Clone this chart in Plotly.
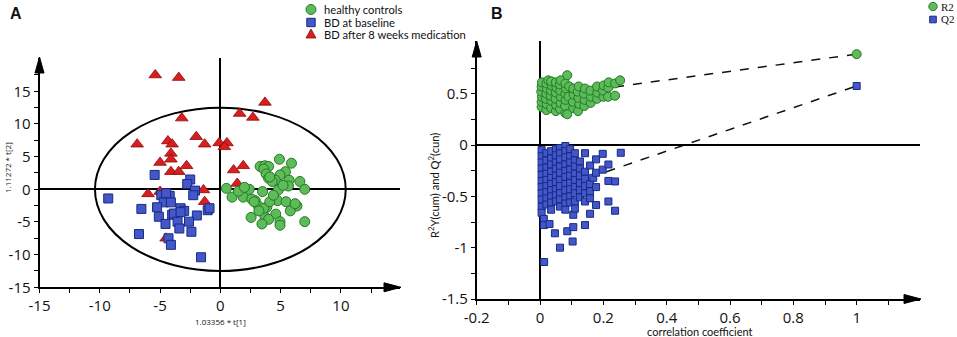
import plotly.graph_objects as go

W, H = 957, 337

# ---------------- Panel A data (PCA scores) ----------------
a_healthy_x = [4.9, 5.9, 3.3, 3.7, 4.0, 3.6, 5.4, 4.95, 3.8, 4.0, 4.55, 4.3, 5.7, 6.6, 5.65, 4.8, 7.0, 0.5,
               2.4, 3.5, 0.97, 1.9, 2.9, 2.6, 4.75, 5.45, 3.15, 3.85, 6.35, 5.8, 4.6, 2.55, 3.7, 4.0, 3.45,
               4.95, 4.95, 7.0, 2.8, 3.6, 4.1, 4.1, 5.2, 3.2, 4.4, 1.5, 2.0, 6.2]
a_healthy_y = [4.6, 4.0, 3.5, 3.6, 3.5, 3.1, 2.7, 2.2, 2.35, 1.7, 1.4, 1.2, 1.4, 1.2, 0.5, -0.1, 0.0, 0.15,
               0.0, -0.35, -1.2, -1.2, -1.75, -1.5, -1.75, -1.9, -2.55, -2.75, -2.55, -3.3, -3.8, -4.3, -4.2, -4.6, -5.3,
               -4.95, -5.5, -4.95, -1.9, -2.9, -1.9, 1.9, 0.6, -3.3, -0.9, -0.3, 0.3, -2.2]

a_base_x = [-9.3, -5.45, -2.5, -2.75, -2.1, -2.25, -4.9, -4.2, -4.7, -4.1, -5.25, -6.55, -3.3, -3.0, -1.05,
            -0.9, -5.1, -4.0, -3.85, -1.95, -4.55, -3.55, -3.4, -2.6, -2.4, -6.75, -4.3, -4.1, -1.6, -4.5, -3.3]
a_base_y = [-1.4, 2.2, 1.5, 0.8, -0.2, -0.9, -0.9, -1.0, -2.0, -2.0, -2.75, -3.0, -2.9, -3.3, -3.2,
            -2.9, -4.2, -3.9, -3.7, -4.0, -5.3, -4.95, -6.0, -4.95, -6.5, -6.85, -7.5, -8.5, -10.4, -0.6, -3.5]

a_med_x = [-5.4, -3.45, 3.7, 1.6, 2.7, -3.2, -2.0, -6.9, -4.35, -4.0, -1.3, -0.1, 0.55, 0.33, -4.1, -4.1,
           -5.0, -2.8, 1.9, 1.1, -4.1, -3.45, 1.4, -6.0, -5.0, -1.4, -1.3, -4.5]
a_med_y = [17.5, 17.1, 13.3, 11.6, 11.0, 10.9, 8.05, 6.9, 7.4, 6.9, 6.9, 7.1, 7.1, 6.5, 5.5, 4.6,
           4.1, 3.6, 3.6, 2.95, 2.7, 2.7, 0.9, -0.7, -0.35, -0.1, -1.9, -7.5]

a_ellipse_rx, a_ellipse_ry = 10.4, 12.5
a_xticks = [-15, -10, -5, 0, 5, 10]
a_yticks = [-15, -10, -5, 0, 5, 10, 15]

# ---------------- Panel B data (permutation test) ----------------
b_r2_x = [0.005, 0.005, 0.006, 0.004, 0.005, 0.006,
          0.02, 0.021, 0.019, 0.02, 0.022, 0.02, 0.026,
          0.035, 0.036, 0.034, 0.035, 0.037, 0.035,
          0.05, 0.051, 0.049, 0.05, 0.052, 0.05,
          0.063, 0.065, 0.066, 0.064, 0.063, 0.065,
          0.08, 0.079, 0.081, 0.08, 0.082, 0.08,
          0.086, 0.09, 0.092, 0.086,
          0.105, 0.104, 0.106, 0.105,
          0.12, 0.124, 0.121, 0.119, 0.122,
          0.14, 0.141, 0.139, 0.142,
          0.16, 0.161, 0.159,
          0.18, 0.181, 0.18,
          0.2, 0.199, 0.201,
          0.215, 0.216, 0.217,
          0.237, 0.237, 0.253]
b_r2_y = [0.37, 0.42, 0.47, 0.52, 0.57, 0.61,
          0.34, 0.40, 0.45, 0.50, 0.55, 0.60, 0.63,
          0.36, 0.43, 0.48, 0.53, 0.58, 0.62,
          0.33, 0.39, 0.45, 0.51, 0.56, 0.61,
          0.35, 0.41, 0.47, 0.53, 0.59, 0.63,
          0.31, 0.38, 0.44, 0.50, 0.55, 0.60,
          0.30, 0.47, 0.57, 0.68,
          0.36, 0.42, 0.49, 0.55,
          0.33, 0.40, 0.46, 0.52, 0.57,
          0.38, 0.44, 0.50, 0.55,
          0.41, 0.47, 0.53,
          0.45, 0.51, 0.57,
          0.47, 0.53, 0.58,
          0.47, 0.56, 0.61,
          0.48, 0.60, 0.63]

b_q2_x = [0.005] * 11 + [0.012, 0.012, 0.013] + [0.02] * 9 + [0.03] + [0.035] * 10 + [0.047] + [0.05] * 9 + \
         [0.063] * 11 + [0.08] * 11 + [0.086] + [0.095] * 9 + [0.105, 0.105, 0.103] + [0.11] * 9 + [0.126] * 6 + \
         [0.142] * 7 + [0.158] * 5 + [0.168] + [0.177] * 4 + [0.198, 0.198] + [0.216] * 3 + [0.237, 0.237, 0.255]
b_q2_y = [-0.05, -0.11, -0.17, -0.23, -0.29, -0.35, -0.41, -0.47, -0.53, -0.60, -0.66,
          -0.72, -0.78, -1.14,
          -0.08, -0.15, -0.22, -0.28, -0.34, -0.40, -0.46, -0.52, -0.58,
          -0.77,
          -0.06, -0.13, -0.19, -0.26, -0.32, -0.38, -0.44, -0.50, -0.56, -0.63,
          -0.86,
          -0.04, -0.10, -0.17, -0.23, -0.30, -0.36, -0.43, -0.49, -0.55,
          -0.03, -0.08, -0.14, -0.21, -0.27, -0.34, -0.40, -0.47, -0.53, -0.60, -1.0,
          -0.01, -0.06, -0.12, -0.19, -0.25, -0.31, -0.38, -0.44, -0.51, -0.57, -0.63,
          -0.84,
          -0.04, -0.11, -0.17, -0.24, -0.30, -0.37, -0.43, -0.50, -0.56,
          -0.80, -0.68, -0.94,
          -0.08, -0.15, -0.21, -0.28, -0.34, -0.41, -0.47, -0.55, -0.62,
          -0.16, -0.23, -0.30, -0.37, -0.44, -0.51,
          -0.08, -0.26, -0.33, -0.40, -0.47, -0.55, -0.78,
          -0.20, -0.45, -0.52, -0.38, -0.67,
          -0.32,
          -0.14, -0.27, -0.41, -0.585,
          -0.086, -0.24,
          -0.19, -0.35, -0.55,
          -0.355, -0.64, -0.076]

b_r2_line_x = [0.237, 1.0]
b_r2_line_y = [0.566, 0.885]
b_q2_line_x = [0.21, 1.0]
b_q2_line_y = [-0.26, 0.575]
b_xticks = [-0.2, 0, 0.2, 0.4, 0.6, 0.8, 1]
b_xticklabels = ["-0.2", "0", "0.2", "0.4", "0.6", "0.8", "1"]
b_yticks = [-1.5, -1, -0.5, 0, 0.5]
b_yticklabels = ["-1.5", "-1", "-0.5", "0", "0.5"]

# ---------------- colours ----------------
GREEN, GREEN_E = "#5dbb5a", "#237a23"
BLUE, BLUE_E = "#4357c8", "#182a86"
RED, RED_E = "#d81e1e", "#8c0a0a"

TICKFONT = dict(family="Open Sans, Lato, sans-serif", size=15, color="#111")

def px_x(p):
    return p / W

def px_y(p):
    return 1 - p / H

fig = go.Figure()

# Panel A traces (draw order: triangles, squares, circles)
fig.add_trace(go.Scatter(x=a_med_x, y=a_med_y, mode="markers", xaxis="x", yaxis="y", showlegend=False,
                         marker=dict(symbol="triangle-up", size=11, color=RED, line=dict(color=RED_E, width=0.8))))
fig.add_trace(go.Scatter(x=a_base_x, y=a_base_y, mode="markers", xaxis="x", yaxis="y", showlegend=False,
                         marker=dict(symbol="square", size=9, color=BLUE, line=dict(color=BLUE_E, width=1))))
fig.add_trace(go.Scatter(x=a_healthy_x, y=a_healthy_y, mode="markers", xaxis="x", yaxis="y", showlegend=False,
                         marker=dict(symbol="circle", size=10, color=GREEN, line=dict(color=GREEN_E, width=1))))

# Panel B traces
fig.add_trace(go.Scatter(x=b_r2_line_x, y=b_r2_line_y, mode="lines", xaxis="x2", yaxis="y2", showlegend=False,
                         line=dict(color="#111", width=1.5, dash="dash")))
fig.add_trace(go.Scatter(x=b_q2_line_x, y=b_q2_line_y, mode="lines", xaxis="x2", yaxis="y2", showlegend=False,
                         line=dict(color="#111", width=1.5, dash="dash")))
fig.add_trace(go.Scatter(x=b_r2_x + [b_r2_line_x[1]], y=b_r2_y + [b_r2_line_y[1]], mode="markers",
                         xaxis="x2", yaxis="y2", showlegend=False,
                         marker=dict(symbol="circle", size=9, color=GREEN, line=dict(color=GREEN_E, width=1))))
fig.add_trace(go.Scatter(x=b_q2_x + [b_q2_line_x[1]], y=b_q2_y + [b_q2_line_y[1]], mode="markers",
                         xaxis="x2", yaxis="y2", showlegend=False,
                         marker=dict(symbol="square", size=7, color=BLUE, line=dict(color=BLUE_E, width=1))))

axis_common = dict(showgrid=False, showline=True, linecolor="black", linewidth=1.8, ticks="outside",
                   ticklen=4, tickwidth=1.3, tickcolor="black", tickfont=TICKFONT, zeroline=True,
                   zerolinecolor="black", zerolinewidth=1.8, fixedrange=True, automargin=False)

# Panel A axes
fig.update_layout(
    xaxis=dict(domain=[px_x(39.5), px_x(400)], range=[-15, 14.9], anchor="y",
               tickmode="array", tickvals=a_xticks, ticktext=[str(v) for v in a_xticks],
               minor=dict(tickvals=[v + 2.5 for v in a_xticks], ticks="outside", ticklen=4,
                          tickwidth=1.3, tickcolor="black"),
               **axis_common),
    yaxis=dict(domain=[px_y(287.3), px_y(58)], range=[-15, 20.1], anchor="x",
               tickmode="array", tickvals=a_yticks, ticktext=[str(v) for v in a_yticks],
               minor=dict(tickvals=[v + 2.5 for v in a_yticks], ticks="outside", ticklen=4,
                          tickwidth=1.3, tickcolor="black"),
               **axis_common),
    xaxis2=dict(domain=[px_x(476.7), px_x(920)], range=[-0.2, 1.2], anchor="y2",
                tickmode="array", tickvals=b_xticks, ticktext=b_xticklabels,
                minor=dict(tickvals=[round(v + 0.1, 2) for v in b_xticks], ticks="outside", ticklen=4,
                           tickwidth=1.3, tickcolor="black"),
                **axis_common),
    yaxis2=dict(domain=[px_y(299), px_y(41)], range=[-1.5, 1.013], anchor="x2",
                tickmode="array", tickvals=b_yticks, ticktext=b_yticklabels,
                minor=dict(tickvals=[v + 0.25 for v in b_yticks] + [0.75], ticks="outside", ticklen=4,
                           tickwidth=1.3, tickcolor="black"),
                **axis_common),
)

shapes = []
# ellipse (Hotelling T2)
shapes.append(dict(type="circle", xref="x", yref="y", x0=-a_ellipse_rx, x1=a_ellipse_rx,
                   y0=-a_ellipse_ry, y1=a_ellipse_ry, line=dict(color="black", width=2), layer="below"))

def arrow_right(xp, yp):
    return dict(type="path", xref="paper", yref="paper", xsizemode="pixel", ysizemode="pixel",
                xanchor=px_x(xp), yanchor=px_y(yp), path="M -17,-4.5 L 0,0 L -17,4.5 Z",
                fillcolor="black", line=dict(color="black", width=1))

def arrow_up(xp, yp):
    return dict(type="path", xref="paper", yref="paper", xsizemode="pixel", ysizemode="pixel",
                xanchor=px_x(xp), yanchor=px_y(yp), path="M -4.5,-16 L 0,0 L 4.5,-16 Z",
                fillcolor="black", line=dict(color="black", width=1))

shapes += [arrow_right(401, 287.3), arrow_up(39.5, 57), arrow_right(921, 299), arrow_up(476.7, 41)]

# manual legends
def circ(xp, yp, r, fill, edge):
    return dict(type="circle", xref="paper", yref="paper", xsizemode="pixel", ysizemode="pixel",
                xanchor=px_x(xp), yanchor=px_y(yp), x0=-r, x1=r, y0=-r, y1=r,
                fillcolor=fill, line=dict(color=edge, width=1))

def sq(xp, yp, h, fill, edge):
    return dict(type="rect", xref="paper", yref="paper", xsizemode="pixel", ysizemode="pixel",
                xanchor=px_x(xp), yanchor=px_y(yp), x0=-h, x1=h, y0=-h, y1=h,
                fillcolor=fill, line=dict(color=edge, width=1))

def tri(xp, yp, h, fill, edge):
    return dict(type="path", xref="paper", yref="paper", xsizemode="pixel", ysizemode="pixel",
                xanchor=px_x(xp), yanchor=px_y(yp), path=f"M {-h},{-h*0.8} L 0,{h} L {h},{-h*0.8} Z",
                fillcolor=fill, line=dict(color=edge, width=0.8))

shapes += [circ(311, 9.5, 5, GREEN, GREEN_E), sq(311, 22.5, 4.2, BLUE, BLUE_E), tri(311, 34, 5, RED, RED_E)]
shapes += [circ(933, 6.5, 4.2, GREEN, GREEN_E), sq(933, 19.5, 3.3, BLUE, BLUE_E)]

fig.update_layout(shapes=shapes)

ann = []
LEGFONT = dict(family="Lato, sans-serif", size=11.2, color="#111")
for txt, yp in [("healthy controls", 9.5), ("BD at baseline", 22.5), ("BD after 8 weeks medication", 34)]:
    ann.append(dict(text=txt, xref="paper", yref="paper", x=px_x(322), y=px_y(yp), xanchor="left",
                    yanchor="middle", showarrow=False, font=LEGFONT))
SERIF = dict(family="Liberation Serif, serif", size=11, color="#111")
for txt, yp in [("R2", 6.5), ("Q2", 19.5)]:
    ann.append(dict(text=txt, xref="paper", yref="paper", x=px_x(939), y=px_y(yp), xanchor="left",
                    yanchor="middle", showarrow=False, font=SERIF))
# panel labels
ann.append(dict(text="<b>A</b>", xref="paper", yref="paper", x=px_x(8), y=px_y(13), xanchor="left",
                yanchor="middle", showarrow=False, font=dict(family="Liberation Sans, Arial", size=16, color="#111")))
ann.append(dict(text="<b>B</b>", xref="paper", yref="paper", x=px_x(489), y=px_y(13), xanchor="left",
                yanchor="middle", showarrow=False, font=dict(family="Liberation Sans, Arial", size=16, color="#111")))
# axis titles
ann.append(dict(text="1.03356 * t[1]", xref="paper", yref="paper", x=px_x(220), y=px_y(321), xanchor="center",
                yanchor="middle", showarrow=False, font=dict(family="Open Sans, sans-serif", size=8, color="#111")))
ann.append(dict(text="1.11272 * t[2]", xref="paper", yref="paper", x=px_x(7), y=px_y(168), xanchor="center",
                yanchor="middle", showarrow=False, textangle=-90,
                font=dict(family="Open Sans, sans-serif", size=8, color="#111")))
ann.append(dict(text="correlation coefficient", xref="paper", yref="paper", x=px_x(700), y=px_y(331.5),
                xanchor="center", yanchor="middle", showarrow=False,
                font=dict(family="Lato, sans-serif", size=11, color="#111")))
ann.append(dict(text="R<sup>2</sup>Y(cum) and Q<sup>2</sup>(cun)", xref="paper", yref="paper", x=px_x(433),
                y=px_y(186), xanchor="center", yanchor="middle", showarrow=False, textangle=-90, font=LEGFONT))
fig.update_layout(annotations=ann)

fig.update_layout(width=W, height=H, margin=dict(l=0, r=0, t=0, b=0, pad=0), paper_bgcolor="white",
                  plot_bgcolor="rgba(0,0,0,0)", showlegend=False)

fig.write_html("out.html", config={"displayModeBar": False},
               post_script="document.body.style.margin='0';document.body.style.overflow='hidden';")
